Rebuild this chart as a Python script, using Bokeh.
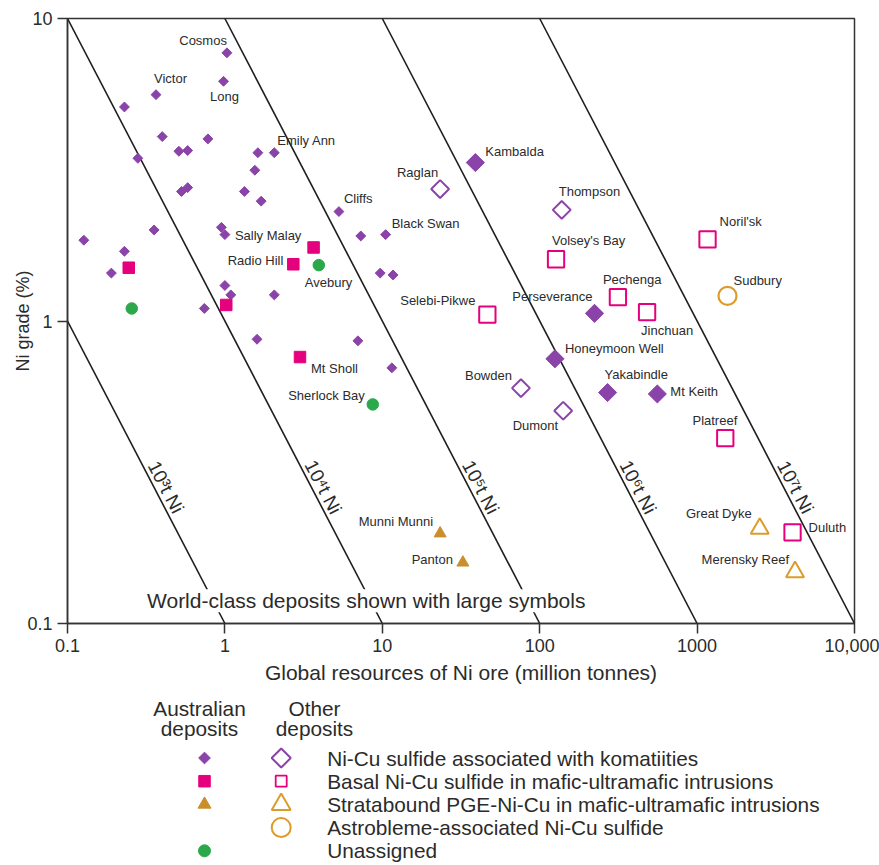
import numpy as np
from bokeh.plotting import figure
from bokeh.models import FixedTicker, Range1d, Label, CustomJSTickFormatter
from bokeh.layouts import column
from bokeh.embed import file_html
from bokeh.resources import INLINE
from bokeh.core.properties import value

FONT = "Liberation Sans"

# ---------------- data: ore in million tonnes, Ni grade in % ----------------
# Australian Ni-Cu sulfide associated with komatiites (small filled diamonds)
aus_kom_names = ["Cosmos", "Long", "Victor", "", "", "", "", "", "", "", "Emily Ann", "",
                 "", "", "", "", "Cliffs", "", "", "Sally Malay", "", "", "", "",
                 "Black Swan", "", "", "", "", "", "", "", "", ""]
aus_kom_ore = [1.03, 0.98, 0.365, 0.23, 0.40, 0.78, 0.51, 0.58, 0.28, 1.62, 2.06, 1.55,
               0.53, 0.58, 1.33, 1.7, 5.3, 0.355, 0.95, 1.0, 0.127, 0.23, 0.19, 7.3,
               10.5, 9.7, 11.7, 1.0, 1.09, 2.06, 0.74, 1.6, 7.0, 11.5]
aus_kom_grade = [7.7, 6.2, 5.6, 5.1, 4.07, 4.0, 3.64, 3.66, 3.45, 3.6, 3.6, 3.15,
                 2.68, 2.76, 2.68, 2.49, 2.3, 2.0, 2.04, 1.93, 1.85, 1.70, 1.44, 1.91,
                 1.93, 1.44, 1.42, 1.31, 1.22, 1.22, 1.10, 0.87, 0.86, 0.70]

# Australian world-class komatiite deposits (large filled diamonds)
aus_kom_wc_names = ["Kambalda", "Perseverance", "Honeymoon Well", "Yakabindle", "Mt Keith"]
aus_kom_wc_ore = [39, 223, 125, 270, 559]
aus_kom_wc_grade = [3.34, 1.06, 0.75, 0.58, 0.574]

# Australian basal Ni-Cu sulfide (small filled squares)
aus_basal_names = ["", "Radio Hill", "", "", "Mt Sholl"]
aus_basal_ore = [0.245, 2.72, 3.66, 1.02, 3.0]
aus_basal_grade = [1.5, 1.54, 1.75, 1.13, 0.76]

# Australian stratabound PGE-Ni-Cu (small filled triangles)
aus_strat_names = ["Munni Munni", "Panton"]
aus_strat_ore = [23.3, 32.5]
aus_strat_grade = [0.1985, 0.159]

# Unassigned (green dots)
unassigned_names = ["", "Avebury", "Sherlock Bay"]
unassigned_ore = [0.256, 3.95, 8.7]
unassigned_grade = [1.1, 1.53, 0.53]

# Other deposits
oth_kom_names = ["Raglan", "Thompson", "Bowden", "Dumont"]
oth_kom_ore = [23.3, 138, 76, 141]
oth_kom_grade = [2.73, 2.33, 0.60, 0.505]

oth_basal_names = ["Volsey's Bay", "Noril'sk", "Pechenga", "Jinchuan", "Selebi-Pikwe",
                   "Platreef", "Duluth"]
oth_basal_ore = [127, 1165, 314, 481, 46.5, 1510, 4040]
oth_basal_grade = [1.60, 1.86, 1.2, 1.07, 1.05, 0.41, 0.20]

oth_strat_names = ["Great Dyke", "Merensky Reef"]
oth_strat_ore = [2500, 4190]
oth_strat_grade = [0.206, 0.148]

astro_names = ["Sudbury"]
astro_ore = [1560]
astro_grade = [1.21]

# iso-tonnage lines (t Ni = ore[Mt] * grade[%] * 1e4)
iso_tonnes_exp = [3, 4, 5, 6, 7]

x_ticks = [0.1, 1, 10, 100, 1000, 10000]
x_tick_labels = ["0.1", "1", "10", "100", "1000", "10,000"]
y_ticks = [0.1, 1, 10]
y_tick_labels = ["0.1", "1", "10"]

legend_headers = [["Australian", "deposits"], ["Other", "deposits"]]
legend_labels = ["Ni-Cu sulfide associated with komatiities",
                 "Basal Ni-Cu sulfide in mafic-ultramafic intrusions",
                 "Stratabound PGE-Ni-Cu in mafic-ultramafic intrusions",
                 "Astrobleme-associated Ni-Cu sulfide",
                 "Unassigned"]

# ---------------- styling / layout ----------------
PURPLE = "#8a43a8"
PINK = "#e5007d"
GOLD = "#dc9c2c"
GOLD_D = "#c98f2d"
GREEN = "#2aa84a"
TXT = "#2b2b2b"
AX = "#333333"

# label offsets in pixels: (dx, dy, align)
OFFS = {
    "Cosmos": (0, -12, "right"), "Long": (1, 15, "center"), "Victor": (-2, -16, "left"),
    "Emily Ann": (3, -12, "left"), "Cliffs": (5, -13, "left"), "Sally Malay": (10, 1, "left"),
    "Black Swan": (6, -11, "left"), "Radio Hill": (-10, -4, "right"),
    "Mt Sholl": (11, 11, "left"), "Avebury": (-14, 17, "left"),
    "Sherlock Bay": (-8, -9, "right"), "Munni Munni": (-7, -12, "right"),
    "Panton": (-10, -3, "right"), "Raglan": (-2, -17, "right"),
    "Thompson": (-3, -18, "left"), "Bowden": (-9, -13, "right"), "Dumont": (-5, 15, "right"),
    "Kambalda": (10, -11, "left"), "Perseverance": (-2, -17, "right"),
    "Honeymoon Well": (10, -10, "left"), "Yakabindle": (-3, -18, "left"),
    "Mt Keith": (13, -2, "left"), "Volsey's Bay": (-4, -19, "left"),
    "Noril'sk": (12, -18, "left"), "Pechenga": (-15, -18, "left"),
    "Jinchuan": (-6, 18, "left"), "Selebi-Pikwe": (-12, -14, "right"),
    "Platreef": (12, -18, "right"), "Duluth": (16, -5, "left"),
    "Great Dyke": (-8, -15, "right"), "Merensky Reef": (-6, -12, "right"),
    "Sudbury": (6, -15, "left"),
}

W = 879
TOTAL_H = 865
BL, BR, BT, BB = 67, 25, 18, 70
FRAME_H = 605
MAIN_H = BT + FRAME_H + BB
LEG_H = TOTAL_H - MAIN_H

p = figure(width=W, height=MAIN_H, x_axis_type="log", y_axis_type="log",
           x_range=Range1d(0.1, 10000), y_range=Range1d(0.1, 10),
           toolbar_location=None, output_backend="svg",
           min_border_left=BL, min_border_right=BR, min_border_top=BT,
           min_border_bottom=BB)
p.background_fill_color = "white"
p.border_fill_color = "white"
p.outline_line_color = AX
p.outline_line_width = 1.5
p.grid.visible = False

# iso-tonnage lines
for e in iso_tonnes_exp:
    prod = 10 ** e / 1e4
    xs = [max(0.1, prod / 10), min(10000, prod / 0.1)]
    ys = [prod / xs[0], prod / xs[1]]
    p.line(xs, ys, line_color="#1e1e1e", line_width=1.6)

sup = str.maketrans("0123456789", "⁰¹²³⁴⁵⁶⁷⁸⁹")
frame_w = W - BL - BR
ang = -np.arctan((FRAME_H / 2) / (frame_w / 5))
lab_grade = 0.272
p.text(x=[10 ** e / 1e4 / lab_grade for e in iso_tonnes_exp],
       y=[lab_grade] * len(iso_tonnes_exp),
       text=["10" + str(e).translate(sup) + "t Ni" for e in iso_tonnes_exp],
       angle=ang, text_align="center", text_baseline="bottom",
       text_font=value(FONT), text_font_size="19px", text_color=TXT)

# markers
p.scatter(aus_kom_ore, aus_kom_grade, marker="square", angle=np.pi / 4, size=7,
          fill_color=PURPLE, line_color=PURPLE)
p.scatter(aus_basal_ore, aus_basal_grade, marker="square", size=11.5,
          fill_color=PINK, line_color=PINK)
p.scatter(aus_strat_ore, aus_strat_grade, marker="triangle", size=12,
          fill_color=GOLD_D, line_color=GOLD_D)
p.scatter(unassigned_ore, unassigned_grade, marker="circle", size=11.5,
          fill_color=GREEN, line_color=GREEN)
p.scatter(aus_kom_wc_ore, aus_kom_wc_grade, marker="square", angle=np.pi / 4, size=12.8,
          fill_color=PURPLE, line_color=PURPLE)
p.scatter(oth_kom_ore, oth_kom_grade, marker="square", angle=np.pi / 4, size=12.6,
          fill_color="white", line_color=PURPLE, line_width=2)
p.scatter(oth_basal_ore, oth_basal_grade, marker="square", size=16.3,
          fill_color="white", line_color=PINK, line_width=2)
p.scatter(oth_strat_ore, oth_strat_grade, marker="triangle", size=18,
          fill_color="white", line_color=GOLD, line_width=2)
p.scatter(astro_ore, astro_grade, marker="circle", size=18,
          fill_color="white", line_color=GOLD, line_width=2.2)

# deposit labels
named = []
for names, ore, grade in [(aus_kom_names, aus_kom_ore, aus_kom_grade),
                          (aus_kom_wc_names, aus_kom_wc_ore, aus_kom_wc_grade),
                          (aus_basal_names, aus_basal_ore, aus_basal_grade),
                          (aus_strat_names, aus_strat_ore, aus_strat_grade),
                          (unassigned_names, unassigned_ore, unassigned_grade),
                          (oth_kom_names, oth_kom_ore, oth_kom_grade),
                          (oth_basal_names, oth_basal_ore, oth_basal_grade),
                          (oth_strat_names, oth_strat_ore, oth_strat_grade),
                          (astro_names, astro_ore, astro_grade)]:
    for n, o, g in zip(names, ore, grade):
        if n:
            named.append((n, o, g))

for align in ("left", "right", "center"):
    rows = [r for r in named if OFFS[r[0]][2] == align]
    if not rows:
        continue
    p.text(x=[r[1] for r in rows], y=[r[2] for r in rows], text=[r[0] for r in rows],
           x_offset=[OFFS[r[0]][0] for r in rows], y_offset=[OFFS[r[0]][1] for r in rows],
           text_align=align, text_baseline="middle", text_font=value(FONT),
           text_font_size="13px", text_color=TXT)

p.add_layout(Label(x=0.32, y=0.119, text="World-class deposits shown with large symbols",
                   text_font=FONT, text_font_size="21px", text_color=TXT,
                   text_baseline="middle", background_fill_color="white"))

# axes
fmt_code = """
const i = tick_vals.findIndex(t => Math.abs(Math.log10(t) - Math.log10(tick)) < 1e-6);
return i >= 0 ? tick_labels[i] : "";
"""
p.xaxis.ticker = FixedTicker(ticks=x_ticks)
p.xaxis.formatter = CustomJSTickFormatter(args=dict(tick_vals=x_ticks, tick_labels=x_tick_labels), code=fmt_code)
p.yaxis.ticker = FixedTicker(ticks=y_ticks)
p.yaxis.formatter = CustomJSTickFormatter(args=dict(tick_vals=y_ticks, tick_labels=y_tick_labels), code=fmt_code)
p.xaxis.axis_label = "Global resources of Ni ore (million tonnes)"
p.yaxis.axis_label = "Ni grade (%)"
for ax in (p.xaxis, p.yaxis):
    ax.axis_line_color = AX
    ax.axis_line_width = 1.5
    ax.major_tick_line_color = AX
    ax.major_tick_line_width = 1.5
    ax.major_tick_in = 0
    ax.major_tick_out = 10
    ax.minor_tick_line_color = None
    ax.major_label_standoff = 5
    ax.major_label_text_font = FONT
    ax.major_label_text_font_size = "18px"
    ax.major_label_text_color = TXT
    ax.axis_label_text_font = FONT
    ax.axis_label_text_font_style = "normal"
    ax.axis_label_text_color = TXT
p.xaxis.axis_label_text_font_size = "21px"
p.yaxis.axis_label_text_font_size = "18px"
p.xaxis.axis_label_standoff = 6
p.yaxis.axis_label_standoff = -9

# ---------------- legend figure (frame aligned with the main plot; page-pixel coords) ----------------
leg = figure(width=W, height=LEG_H, x_range=Range1d(BL, W - BR),
             y_range=Range1d(MAIN_H + LEG_H, MAIN_H),
             toolbar_location=None, output_backend="svg",
             x_axis_location=None, y_axis_location=None,
             min_border_left=BL, min_border_right=BR, min_border_top=0, min_border_bottom=0)
leg.outline_line_color = None
leg.grid.visible = False
leg.background_fill_color = "white"
leg.border_fill_color = "white"

LEG_FONT = "20.8px"
COL_AUS, COL_OTH, TEXT_X = 204, 280.7, 326.7
HEAD_X = [199, 314]
HEAD_Y = [708, 728]
ROW0, STEP = 757.5, 23.2
rows_y = [ROW0 + i * STEP for i in range(len(legend_labels))]

for cx, hdr in zip(HEAD_X, legend_headers):
    leg.text(x=[cx, cx], y=HEAD_Y, text=hdr, text_align="center", text_baseline="middle",
             text_font=value(FONT), text_font_size=LEG_FONT, text_color=TXT)
leg.text(x=[TEXT_X] * len(legend_labels), y=rows_y, text=legend_labels,
         text_align="left", text_baseline="middle", text_font=value(FONT),
         text_font_size=LEG_FONT, text_color=TXT)

leg.scatter([COL_AUS], [rows_y[0]], marker="square", angle=np.pi / 4, size=8.3,
            fill_color=PURPLE, line_color=PURPLE)
leg.scatter([COL_OTH], [rows_y[0]], marker="square", angle=np.pi / 4, size=13.5,
            fill_color="white", line_color=PURPLE, line_width=2)
leg.scatter([COL_AUS], [rows_y[1]], marker="square", size=11.5,
            fill_color=PINK, line_color=PINK)
leg.scatter([COL_OTH], [rows_y[1]], marker="square", size=11,
            fill_color="white", line_color=PINK, line_width=1.8)
leg.scatter([COL_AUS], [rows_y[2]], marker="triangle", size=13,
            fill_color=GOLD_D, line_color=GOLD_D)
leg.scatter([COL_OTH], [rows_y[2]], marker="triangle", size=19,
            fill_color="white", line_color=GOLD, line_width=2)
leg.scatter([COL_OTH], [rows_y[3]], marker="circle", size=19,
            fill_color="white", line_color=GOLD, line_width=2)
leg.scatter([COL_AUS], [rows_y[4]], marker="circle", size=12,
            fill_color=GREEN, line_color=GREEN)

layout = column(p, leg, spacing=0)
open("out.html", "w").write(file_html(layout, INLINE))
